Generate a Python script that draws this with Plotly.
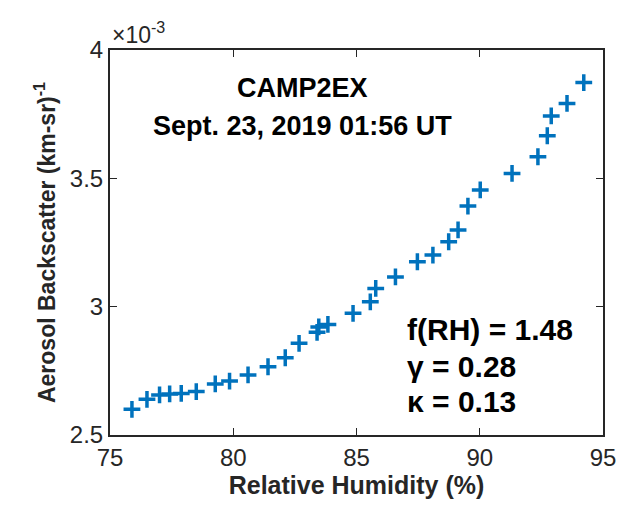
import plotly.graph_objects as go

rh = [75.89, 76.50, 77.01, 77.42, 77.89, 78.50, 79.27, 79.85, 80.60, 81.41, 82.11, 82.67,
      83.40, 83.47, 83.84, 84.86, 85.56, 85.78, 86.58, 87.47, 88.10, 88.74, 89.12, 89.52,
      90.02, 91.31, 92.36, 92.74, 92.90, 93.54, 94.22]
bsc = [2.600, 2.639, 2.656, 2.660, 2.662, 2.669, 2.699, 2.710, 2.734, 2.766, 2.801, 2.857,
       2.900, 2.921, 2.931, 2.974, 3.019, 3.071, 3.116, 3.175, 3.201, 3.253, 3.299, 3.392,
       3.455, 3.519, 3.584, 3.666, 3.743, 3.792, 3.873]
xticks = [75, 80, 85, 90, 95]
yticks = [2.5, 3, 3.5, 4]

F = "Liberation Sans"
fig = go.Figure(go.Scatter(x=rh, y=bsc, mode="markers",
    marker=dict(symbol="cross-thin", size=12, color="#0072BD",
                line=dict(width=3.5, color="#0072BD"))))
ax = dict(showgrid=False, zeroline=False, showline=True, linecolor="#262626", linewidth=2,
          mirror="ticks", ticks="inside", ticklen=7, tickcolor="#262626",
          tickfont=dict(family=F, size=24, color="#262626"))
fig.update_xaxes(**ax, range=[75, 95], tickvals=xticks,
                 title=dict(text="<b>Relative Humidity (%)</b>", font=dict(family=F, size=25, color="#262626"), standoff=6))
fig.update_yaxes(**ax, range=[2.5, 4], tickvals=yticks, ticktext=["2.5", "3", "3.5", "4"],
                 title=dict(text="<b>Aerosol Backscatter (km-sr)<sup>-1</sup></b>", font=dict(family=F, size=23, color="#262626"), standoff=8))

def a(x, y, t, size, xa="center", ya="middle"):
    return dict(x=x, y=y, xref="paper", yref="paper", xanchor=xa, yanchor=ya, showarrow=False,
                text=t, font=dict(family=F, size=size, color="black"))

ann = [
    dict(x=0.0, y=1.0, xref="paper", yref="paper", xanchor="left", yanchor="bottom", showarrow=False,
         text="×10<sup>-3</sup>", font=dict(family=F, size=23, color="#262626")),
    a(0.39, 0.901, "<b>CAMP2EX</b>", 27),
    a(0.39, 0.803, "<b>Sept. 23, 2019 01:56 UT</b>", 27),
    a(0.598, 0.273, "<b>f(RH) = 1.48</b>", 30, xa="left"),
    a(0.598, 0.179, "<b>γ = 0.28</b>", 30, xa="left"),
    a(0.598, 0.088, "<b>κ = 0.13</b>", 30, xa="left"),
]
fig.update_layout(width=624, height=506, margin=dict(l=102, r=29, t=42, b=79),
                  plot_bgcolor="white", paper_bgcolor="white", showlegend=False, annotations=ann)
fig.write_html("out.html")
